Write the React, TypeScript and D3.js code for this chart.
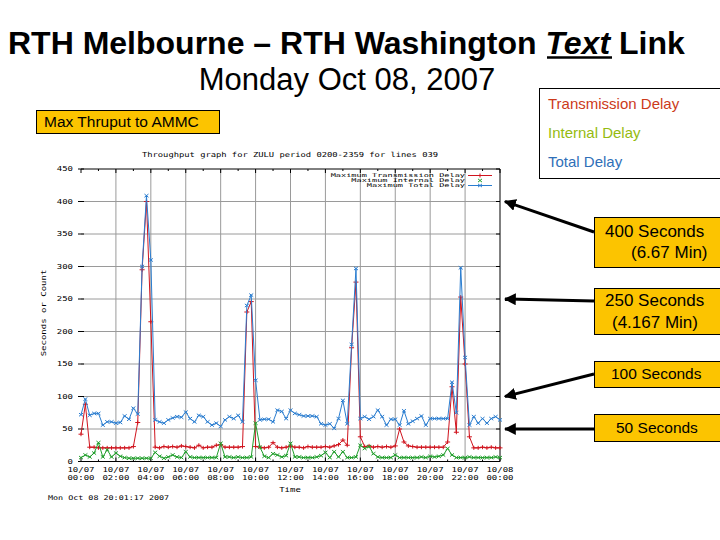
import React from 'react';
import * as d3 from 'd3';

// ---- data ----
const sampleHours: number[] = d3.range(0, 97).map((i) => i * 0.25);

const transmissionDelay: number[] = [
  42, 88, 22, 22, 21, 21, 21, 21, 21, 21,
  21, 21, 23, 60, 295, 400, 215, 22, 21, 23,
  22, 23, 22, 24, 23, 22, 21, 25, 21, 22,
  22, 25, 26, 22, 22, 22, 22, 23, 230, 246,
  23, 22, 21, 22, 29, 22, 21, 22, 24, 22,
  22, 21, 23, 22, 22, 22, 23, 22, 24, 26,
  33, 25, 175, 276, 38, 23, 24, 22, 23, 22,
  23, 22, 24, 50, 30, 24, 23, 22, 22, 22,
  22, 22, 22, 22, 30, 115, 45, 253, 150, 38,
  21, 21, 22, 21, 22, 21, 21,
];

const internalDelay: number[] = [
  6, 10, 7, 13, 29, 7, 18, 7, 13, 8,
  6, 5, 5, 5, 5, 5, 5, 14, 8, 5,
  7, 10, 7, 6, 15, 7, 6, 6, 6, 6,
  6, 6, 28, 7, 7, 6, 7, 6, 6, 7,
  59, 22, 8, 6, 12, 10, 7, 9, 28, 7,
  7, 6, 6, 6, 7, 9, 14, 6, 15, 7,
  15, 6, 6, 7, 25, 20, 23, 12, 7, 6,
  6, 6, 10, 6, 6, 6, 6, 6, 7, 6,
  8, 7, 8, 10, 20, 10, 6, 6, 6, 7,
  6, 6, 6, 6, 6, 7, 6,
];

const totalDelay: number[] = [
  72, 96, 71, 74, 74, 56, 61, 61, 59, 60,
  70, 65, 82, 73, 300, 409, 310, 64, 61, 59,
  64, 67, 69, 68, 76, 66, 61, 71, 69, 61,
  56, 59, 54, 64, 69, 66, 71, 61, 240, 256,
  125, 64, 65, 65, 61, 79, 77, 66, 79, 74,
  72, 70, 70, 70, 69, 58, 56, 58, 51, 66,
  94, 58, 180, 297, 66, 69, 65, 69, 79, 69,
  56, 65, 65, 56, 78, 58, 62, 66, 70, 56,
  66, 66, 66, 66, 66, 122, 75, 298, 160, 56,
  69, 59, 66, 59, 66, 69, 64,
];

const xTickHours: number[] = [0, 2, 4, 6, 8, 10, 12, 14, 16, 18, 20, 22, 24];
const xTickDates: string[] = ['10/07', '10/07', '10/07', '10/07', '10/07', '10/07', '10/07', '10/07', '10/07', '10/07', '10/07', '10/07', '10/08'];
const xTickTimes: string[] = ['00:00', '02:00', '04:00', '06:00', '08:00', '10:00', '12:00', '14:00', '16:00', '18:00', '20:00', '22:00', '00:00'];
const yTicks: number[] = [0, 50, 100, 150, 200, 250, 300, 350, 400, 450];

const seriesNames: string[] = ['Maximum Transmission Delay', 'Maximum Internal Delay', 'Maximum Total Delay'];
const legendLabels: string[] = ['Transmission Delay', 'Internal Delay', 'Total Delay'];
const calloutValues: number[] = [400, 250, 100, 50];
const calloutLine1: string[] = ['400 Seconds', '250 Seconds', '100 Seconds', '50 Seconds'];
const calloutLine2: string[] = ['(6.67 Min)', '(4.167 Min)', '', ''];

const RED = '#d0141e';
const GREEN = '#1f9e2a';
const BLUE = '#2a7dd0';
const GOLD = '#fcc400';
const MONO = "'DejaVu Sans Mono', monospace";
const SANS = "'Liberation Sans', Arial, sans-serif";

function Mono({ x, y, children, anchor = 'start', size = 9, sy = 0.78, rotate = 0 }: any) {
  return (
    <text
      transform={`translate(${x},${y}) rotate(${rotate}) scale(1,${sy})`}
      textAnchor={anchor}
      dominantBaseline="central"
      fontFamily={MONO}
      fontSize={size}
      fill="#000"
    >
      {children}
    </text>
  );
}

export default function App() {
  const x = d3.scaleLinear().domain([0, 24]).range([81, 500]);
  const y = d3.scaleLinear().domain([0, 450]).range([461.5, 169]);
  const mkLine = (vals: number[]) =>
    d3.line<number>().x((_, i) => x(sampleHours[i])).y((v) => y(v))(vals) || '';

  const plus = (cx: number, cy: number, c: string, k: string) => (
    <g key={k} stroke={c} strokeWidth={1}>
      <line x1={cx - 2.5} y1={cy} x2={cx + 2.5} y2={cy} />
      <line x1={cx} y1={cy - 2} x2={cx} y2={cy + 2} />
    </g>
  );
  const cross = (cx: number, cy: number, c: string, k: string) => (
    <g key={k} stroke={c} strokeWidth={1}>
      <line x1={cx - 2} y1={cy - 1.6} x2={cx + 2} y2={cy + 1.6} />
      <line x1={cx - 2} y1={cy + 1.6} x2={cx + 2} y2={cy - 1.6} />
    </g>
  );

  const left = 81, right = 500, top = 169, bottom = 461.5;
  const legendY = [175.5, 180.5, 185.5];
  const series = [
    { vals: transmissionDelay, color: RED, mark: plus },
    { vals: internalDelay, color: GREEN, mark: cross },
    { vals: totalDelay, color: BLUE, mark: cross },
  ];

  const boxTops = [217, 288, 361, 414];
  const boxH = [50, 46, 26, 27];
  const anchorY = [232, 301, 374, 429];
  const line1X = [605, 605, 611, 616];
  const line1Y = [237, 306, 379, 433];
  const line2X = [631, 612];
  const line2Y = [258, 328];
  const boxFont = [17, 17, 15.5, 15.5];
  const legendColors = ['#cc3a1a', '#95bb10', '#2f6fb8'];

  return (
    <svg width={720} height={540} style={{ position: 'absolute', left: 0, top: 0, background: '#fff' }}>
      <defs>
        <marker id="ah" viewBox="0 0 10 10" refX="9" refY="5" markerWidth="4" markerHeight="4" orient="auto-start-reverse">
          <path d="M0,0 L10,5 L0,10 z" fill="#000" />
        </marker>
      </defs>
      <rect x={0} y={0} width={720} height={540} fill="#fff" />

      {/* Titles */}
      <text x={8} y={54} fontFamily={SANS} fontWeight="bold" fontSize={32} fill="#000">
        RTH Melbourne – RTH Washington <tspan fontStyle="italic">Text</tspan> Link
      </text>
      <line x1={547} x2={612} y1={57.5} y2={57.5} stroke="#000" strokeWidth={2.4} />
      <text x={347} y={90} textAnchor="middle" fontFamily={SANS} fontSize={31} fill="#000">
        Monday Oct 08, 2007
      </text>

      {/* Max Thruput box */}
      <rect x={36.5} y={110.5} width={183} height={23} fill={GOLD} stroke="#000" strokeWidth={1} />
      <text x={44} y={127} fontFamily={SANS} fontSize={15.5} fill="#000">Max Thruput to AMMC</text>

      {/* Right legend box */}
      <rect x={539.5} y={88.5} width={200} height={90} fill="#fff" stroke="#000" strokeWidth={1} />
      {legendLabels.map((l, i) => (
        <text key={l} x={548} y={109 + i * 29} fontFamily={SANS} fontSize={15} fill={legendColors[i]}>{l}</text>
      ))}

      {/* Plot grid */}
      {yTicks.filter((v) => v > 0 && v < 450).map((v) => (
        <line key={'gy' + v} x1={left} x2={right} y1={y(v)} y2={y(v)} stroke="#9a9a9a" strokeWidth={1} />
      ))}
      {xTickHours.filter((h) => h > 0 && h < 24).map((h) => (
        <line key={'gx' + h} x1={x(h)} x2={x(h)} y1={top} y2={bottom} stroke="#9a9a9a" strokeWidth={1} />
      ))}
      {/* border */}
      <path d={`M${left},${top} H${right} V${bottom} H${left}`} fill="none" stroke="#000" strokeWidth={1} />
      {/* y ticks */}
      {yTicks.map((v) => (
        <g key={'ty' + v}>
          <line x1={left - 3} x2={left + 3} y1={y(v)} y2={y(v)} stroke="#000" />
          <line x1={right - 4} x2={right} y1={y(v)} y2={y(v)} stroke="#000" />
          <Mono x={73} y={y(v)} anchor="end">{String(v)}</Mono>
        </g>
      ))}
      {/* x ticks */}
      {xTickHours.map((h, i) => (
        <g key={'tx' + h}>
          <line x1={x(h)} x2={x(h)} y1={bottom} y2={bottom - 4} stroke="#000" />
          <line x1={x(h)} x2={x(h)} y1={top} y2={top + 4} stroke="#000" />
          <Mono x={x(h)} y={470} anchor="middle">{xTickDates[i]}</Mono>
          <Mono x={x(h)} y={478} anchor="middle">{xTickTimes[i]}</Mono>
        </g>
      ))}
      {d3.range(1, 24, 2).map((h) => (
        <g key={'mx' + h}>
          <line x1={x(h)} x2={x(h)} y1={top} y2={top + 2} stroke="#000" />
          <line x1={x(h)} x2={x(h)} y1={bottom} y2={bottom - 2} stroke="#000" />
        </g>
      ))}

      <Mono x={290} y={155} anchor="middle" size={8.8}>Throughput graph for ZULU period 0200-2359 for lines 039</Mono>
      <Mono x={44} y={313} anchor="middle" rotate={-90} size={9}>Seconds or Count</Mono>
      <Mono x={290} y={490} anchor="middle">Time</Mono>
      <Mono x={48} y={498} size={8.4}>Mon Oct 08 20:01:17 2007</Mono>

      {/* in-plot legend */}
      {seriesNames.map((n, i) => (
        <g key={n}>
          <Mono x={465} y={legendY[i]} anchor="end" size={8.6} sy={0.62}>{n}</Mono>
          {i !== 1 && <line x1={468} x2={492} y1={legendY[i]} y2={legendY[i]} stroke={series[i].color} />}
          {series[i].mark(480, legendY[i], series[i].color, 'lm' + i)}
        </g>
      ))}

      {/* series */}
      {series.map((s, si) => (
        <g key={'s' + si}>
          <path d={mkLine(s.vals)} fill="none" stroke={s.color} strokeWidth={1} />
          {s.vals.map((v, i) => s.mark(x(sampleHours[i]), y(v), s.color, `m${si}-${i}`))}
        </g>
      ))}

      {/* Callouts */}
      {calloutValues.map((v, i) => (
        <g key={'c' + v}>
          <line x1={594} y1={anchorY[i]} x2={505} y2={y(v)} stroke="#000" strokeWidth={3} markerEnd="url(#ah)" />
          <rect x={594.5} y={boxTops[i] + 0.5} width={140} height={boxH[i]} fill={GOLD} stroke="#000" strokeWidth={1} />
          <text x={line1X[i]} y={line1Y[i]} fontFamily={SANS} fontSize={boxFont[i]} fill="#000">{calloutLine1[i]}</text>
          {calloutLine2[i] && (
            <text x={line2X[i]} y={line2Y[i]} fontFamily={SANS} fontSize={boxFont[i]} fill="#000">{calloutLine2[i]}</text>
          )}
        </g>
      ))}
    </svg>
  );
}
